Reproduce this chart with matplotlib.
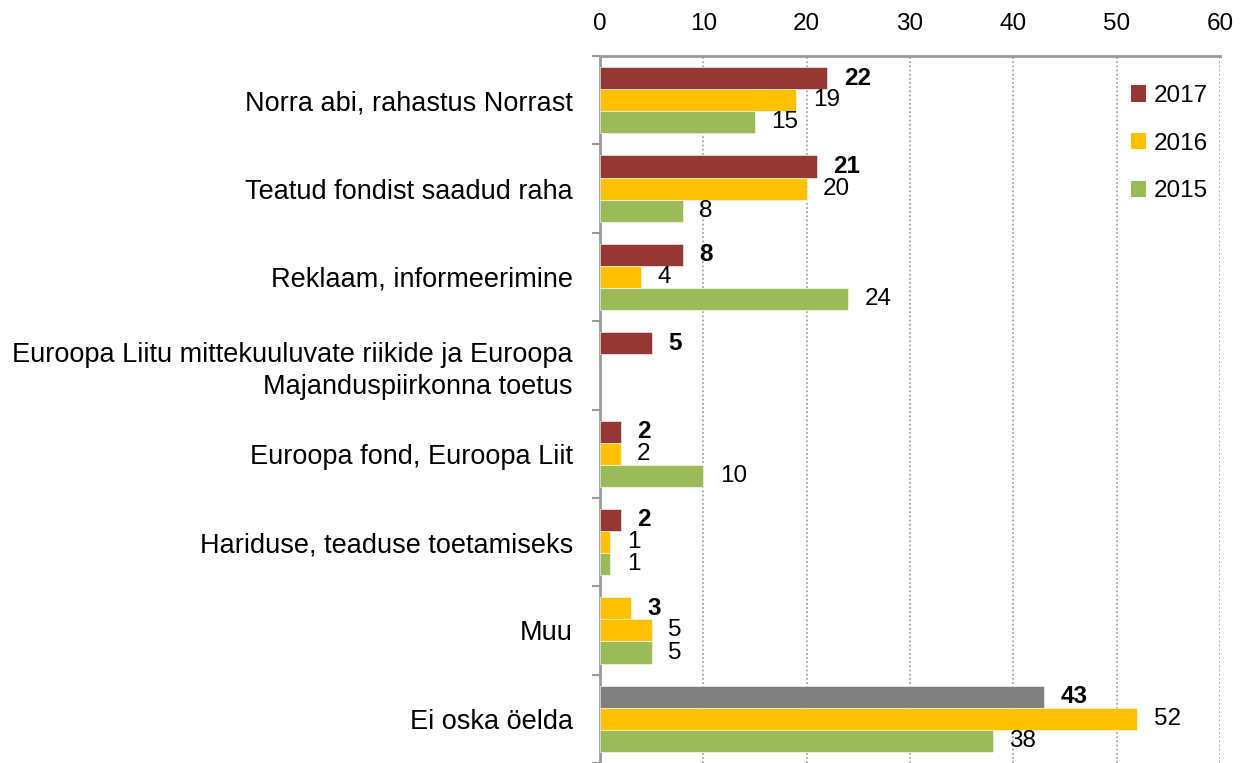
import numpy as np
import matplotlib
matplotlib.use("Agg")
import matplotlib.pyplot as plt

plt.rcParams['font.family'] = ['Liberation Sans', 'DejaVu Sans']

categories = [
    "Norra abi, rahastus Norrast",
    "Teatud fondist saadud raha",
    "Reklaam, informeerimine",
    "Euroopa Liitu mittekuuluvate riikide ja Euroopa\nMajanduspiirkonna toetus",
    "Euroopa fond, Euroopa Liit",
    "Hariduse, teaduse toetamiseks",
    "Muu",
    "Ei oska öelda",
]
years = ["2017", "2016", "2015"]
v2017 = [22, 21, 8, 5, 2, 2, 3, 43]
v2016 = [19, 20, 4, np.nan, 2, 1, 5, 52]
v2015 = [15, 8, 24, np.nan, 10, 1, 5, 38]

colors = {"2017": "#953735", "2016": "#FFC000", "2015": "#9BBB59"}
# a few 2017 bars are drawn in another colour
colors_2017 = [colors["2017"]] * len(categories)
colors_2017[6] = colors["2016"]
colors_2017[7] = "#808080"

fig = plt.figure(figsize=(12.45, 7.63), dpi=100)
ax = fig.add_axes([600 / 1245, 0.0, 620 / 1245, 1 - 56 / 763])

y = np.arange(len(categories))
h = 0.25
series = [(v2017, -h, colors_2017, True), (v2016, 0, colors["2016"], False), (v2015, h, colors["2015"], False)]
for vals, off, col, bold in series:
    ax.barh(y + off, vals, height=h, color=col, edgecolor="white", linewidth=0.4, zorder=3)
    for yi, v in zip(y, vals):
        if np.isnan(v):
            continue
        ax.text(v + 1.6, yi + off, f"{v:g}", va="center", ha="left", fontsize=17.5,
                fontweight="bold" if bold else "normal", color="black")

# legend handles
for yr in years:
    ax.barh([np.nan], [np.nan], color=colors[yr], label=yr)
ax.legend(loc="upper right", bbox_to_anchor=(1.0, 0.976), frameon=False, fontsize=17.5,
          handlelength=0.65, handleheight=0.65, handletextpad=0.3, labelspacing=1.05,
          borderaxespad=0.1)

ax.set_xlim(0, 60)
ax.set_ylim(len(categories) - 0.5, -0.5)
ax.xaxis.tick_top()
ax.set_xticks(range(0, 61, 10))
ax.tick_params(axis="x", length=0, labelsize=17.5, pad=15)
ax.set_yticks(y)
ax.set_yticklabels(categories, fontsize=19.5, linespacing=1.3)
ax.tick_params(axis="y", which="major", length=0, pad=19.5)
ax.set_yticks(np.arange(-0.5, len(categories), 1), minor=True)
ax.tick_params(axis="y", which="minor", length=6, width=1.5, color="#999999", direction="out")
for lbl in ax.get_yticklabels():
    lbl.set_horizontalalignment("right")

ax.grid(axis="x", color="#999999", linestyle=(0, (1, 1.5)), linewidth=1.2, zorder=0)
for s in ["right", "bottom"]:
    ax.spines[s].set_visible(False)
ax.spines["top"].set_color("#999999")
ax.spines["top"].set_linewidth(2)
ax.spines["left"].set_color("#999999")
ax.spines["left"].set_linewidth(2)

fig.savefig("out.png", dpi=100)
